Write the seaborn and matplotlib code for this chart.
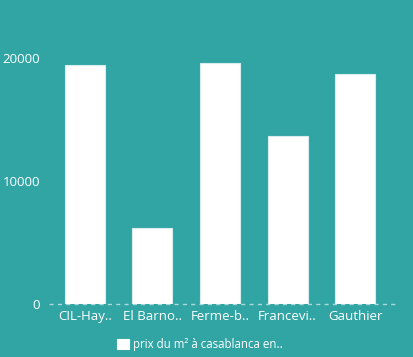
import matplotlib
matplotlib.use("Agg")
import matplotlib.pyplot as plt
import seaborn as sns
import pandas as pd

categories = ["CIL-Hay..", "El Barno..", "Ferme-b..", "Francevi..", "Gauthier"]
values = [19400, 6200, 19600, 13650, 18700]
series_name = "prix du m² à casablanca en.."
yticks = [0, 10000, 20000]

bg = "#31a4a4"
sns.set_theme(style="white")
plt.rcParams["font.family"] = ["Open Sans", "DejaVu Sans"]

df = pd.DataFrame({"cat": categories, "val": values, "series": [series_name] * len(categories)})

fig = plt.figure(figsize=(4.14, 3.57), dpi=100, facecolor=bg)
ax = fig.add_axes([51 / 414, 1 - 304 / 357, (389 - 51) / 414, (304 - 30) / 357])
ax.set_facecolor(bg)

sns.barplot(data=df, x="cat", y="val", hue="series", palette=["white"], width=0.59,
            edgecolor="#d8eeee", linewidth=0.8, ax=ax, legend=True)

ax.set_ylim(0, 22280)
ax.set_xlim(-0.5, 4.5)
ax.set_yticks(yticks)
ax.set_yticklabels([str(t) for t in yticks])
ax.set_xlabel("")
ax.set_ylabel("")
for s in ax.spines.values():
    s.set_visible(False)
ax.tick_params(axis="both", length=0, colors="white", labelsize=9.5)
ax.tick_params(axis="y", pad=8)
ax.tick_params(axis="x", pad=4)
for lbl in ax.get_xticklabels() + ax.get_yticklabels():
    lbl.set_color("white")

ax.plot([-0.53, 4.63], [0, 0], linestyle=(0, (3, 3)), color="#a9d9d9", linewidth=1,
        clip_on=False, zorder=0)

leg = ax.legend(loc="upper center", bbox_to_anchor=(0.5 - 20 / 338, -0.085), frameon=False,
                fontsize=8.3, handlelength=1.0, handleheight=1.0, handletextpad=0.4)
for t in leg.get_texts():
    t.set_color("white")
for h in leg.legend_handles:
    h.set_edgecolor("white")

fig.savefig("out.png", dpi=100, facecolor=bg)
